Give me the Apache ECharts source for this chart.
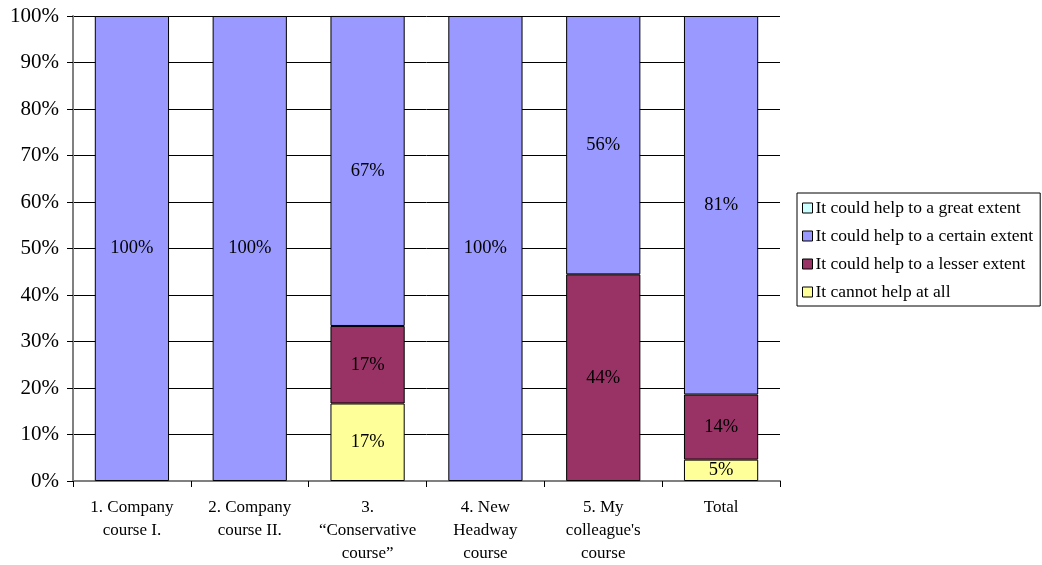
<!DOCTYPE html>
<html>
<head>
<meta charset="utf-8">
<script src="https://cdn.jsdelivr.net/npm/echarts@6/dist/echarts.min.js"></script>
<style>
  html, body { margin: 0; padding: 0; background: #fff; }
  #chart { width: 1042px; height: 565px; }
</style>
</head>
<body>
<div id="chart"></div>
<script>
// Course categories (x axis)
const categories = [
  '1. Company\ncourse I.',
  '2. Company\ncourse II.',
  '3.\n\u201cConservative\ncourse\u201d',
  '4. New\nHeadway\ncourse',
  "5. My\ncolleague's\ncourse",
  'Total'
];

// Share of answers per category, in percent
const greatExtent   = [0, 0, 0, 0, 0, 0];
const certainExtent = [100, 100, 66.67, 100, 55.56, 81.4];
const lesserExtent  = [0, 0, 16.67, 0, 44.44, 14.0];
const cannotHelp    = [0, 0, 16.67, 0, 0, 4.6];

const seriesNames = [
  'It could help to a great extent',
  'It could help to a certain extent',
  'It could help to a lesser extent',
  'It cannot help at all'
];

const yTicks = [0, 10, 20, 30, 40, 50, 60, 70, 80, 90, 100];

const FONT = '"Liberation Serif", "Times New Roman", serif';

// zero shares are left out so no empty segment outline is drawn
const asBars = arr => arr.map(v => (v > 0 ? v : '-'));

function barSeries(name, data, color) {
  return {
    name: name,
    type: 'bar',
    stack: 'total',
    data: asBars(data),
    barCategoryGap: '37%',
    itemStyle: { color: color, borderColor: '#000', borderWidth: 1 },
    label: {
      show: true,
      position: 'inside',
      color: '#000',
      fontFamily: FONT,
      fontSize: 18.5,
      formatter: p => Math.round(p.value) + '%'
    },
    emphasis: { disabled: true }
  };
}

const chart = echarts.init(document.getElementById('chart'), null, { renderer: 'canvas' });

chart.setOption({
  animation: false,
  backgroundColor: '#fff',
  grid: { left: 73, right: 262, top: 16, bottom: 80, containLabel: false },
  legend: {
    orient: 'vertical',
    left: 797,
    top: 193,
    padding: [6, 7, 5, 5],
    itemWidth: 10,
    itemHeight: 10,
    itemGap: 10,
    borderColor: '#000',
    borderWidth: 1,
    icon: 'rect',
    itemStyle: { borderColor: '#000', borderWidth: 1 },
    textStyle: { fontFamily: FONT, fontSize: 17.5, color: '#000', lineHeight: 18, padding: [0, 0, 0, -2] },
    data: seriesNames
  },
  xAxis: {
    type: 'category',
    data: categories,
    axisLine: { show: true, lineStyle: { color: '#808080', width: 2 } },
    axisTick: { show: true, length: 6, lineStyle: { color: '#000' } },
    axisLabel: {
      fontFamily: FONT,
      fontSize: 17,
      color: '#000',
      lineHeight: 23,
      margin: 15,
      interval: 0
    }
  },
  yAxis: {
    type: 'value',
    min: 0,
    max: 100,
    interval: 10,
    axisLine: { show: true, lineStyle: { color: '#808080', width: 2 } },
    axisTick: { show: true, length: 6, lineStyle: { color: '#000' } },
    splitLine: { show: true, lineStyle: { color: '#000', width: 1 } },
    axisLabel: {
      fontFamily: FONT,
      fontSize: 21,
      color: '#000',
      margin: 14,
      formatter: v => (yTicks.includes(v) ? v + '%' : '')
    }
  },
  series: [
    barSeries(seriesNames[0], greatExtent, '#CCFFFF'),
    barSeries(seriesNames[1], certainExtent, '#9999FF'),
    barSeries(seriesNames[2], lesserExtent, '#993366'),
    barSeries(seriesNames[3], cannotHelp, '#FFFF99')
  ].reverse()
});
</script>
</body>
</html>
